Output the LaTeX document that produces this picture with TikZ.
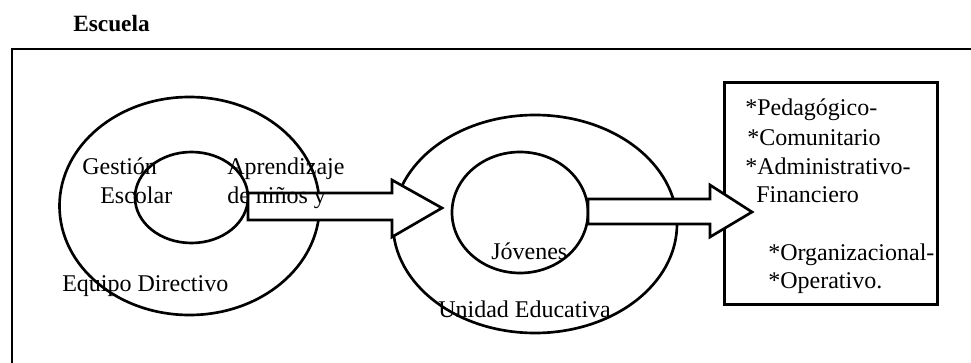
\documentclass[tikz,border=0pt]{standalone}
\usepackage{fontspec}
\setmainfont{Liberation Serif}
\begin{document}
\begin{tikzpicture}[x=0.75pt,y=-0.75pt,
  lw/.style={line width=2pt},
  txt/.style={anchor=base west,inner sep=0pt,font=\fontsize{18}{21}\selectfont},
  blockarrow/.style={lw,draw,fill=white,line join=miter}]
\useasboundingbox (0,0) rectangle (971,363);
\begin{scope}
\clip (0,0) rectangle (971,363);
\draw[lw] (12,49) rectangle (1000,420);
\end{scope}
\node[anchor=base west,inner sep=0pt,font=\fontsize{17.5}{20}\selectfont\bfseries] (escuela) at (73,32) {Escuela};
% ellipses
\draw[lw] (189.5,206) ellipse [x radius=130,y radius=109];
\draw[lw] (191.5,197.5) ellipse [x radius=56.5,y radius=45.5];
\draw[lw] (535,224) ellipse [x radius=142,y radius=109];
\draw[lw] (520,212.5) ellipse [x radius=68,y radius=60.5];
% right box
\node[lw,draw,rectangle,anchor=north west,minimum width=159.75pt,minimum height=166.5pt,inner sep=0] (box) at (723,81) {};
% arrows
\draw[blockarrow] (248,193) -- (392,193) -- (392,180) -- (442,208) -- (392,237) -- (392,220) -- (248,220) -- cycle;
\draw[blockarrow] (588,199) -- (710,199) -- (710,185) -- (752,212) -- (710,237) -- (710,224) -- (588,224) -- cycle;
% texts
\node[txt] (gestion) at (82,175) {Gestión};
\node[txt] (escolar) at (100,204) {Escolar};
\node[txt] (aprend) at (227,175) {Aprendizaje};
\node[txt] (ninos) at (227,204) {de niños y};
\node[txt] (equipo) at (62,292) {Equipo Directivo};
\node[txt] (jovenes) at (491,260) {Jóvenes};
\node[txt] (unidad) at (438,318) {Unidad Educativa};
\node[txt] (t1) at (745,116) {*Pedagógico-};
\node[txt] (t2) at (747,146) {*Comunitario};
\node[txt] (t3) at (745,175) {*Administrativo-};
\node[txt] (t4) at (756,203) {Financiero};
\node[txt] (t5) at (768,261) {*Organizacional-};
\node[txt] (t6) at (768,289) {*Operativo.};
\end{tikzpicture}
\end{document}
